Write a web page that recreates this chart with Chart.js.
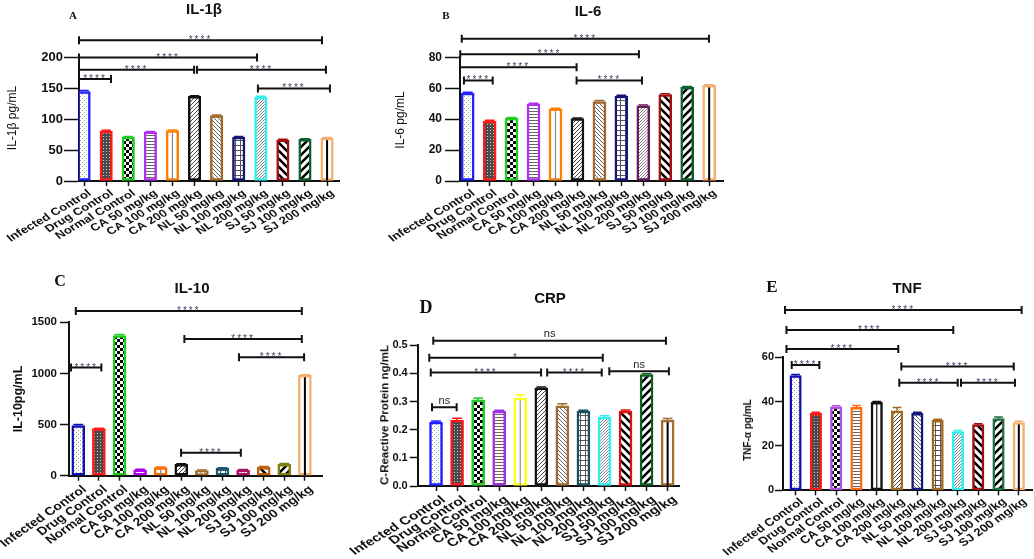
<!DOCTYPE html>
<html><head><meta charset="utf-8">
<script src="https://cdn.jsdelivr.net/npm/chart.js@4.4.1/dist/chart.umd.min.js"></script>
<style>
html,body{margin:0;padding:0;background:#fff;}
#wrap{position:relative;width:1034px;height:559px;overflow:hidden;background:#fff;}
canvas{position:absolute;left:0;top:0;}
.t{position:absolute;white-space:nowrap;font-family:"Liberation Sans",Arial,sans-serif;color:#111;transform:translate(-50%,-50%);line-height:1;}
.yt{transform:translate(-50%,-50%) rotate(-90deg);}
.L{font-family:"Liberation Serif","Times New Roman",serif;font-weight:bold;}
.b{font-weight:bold;}
</style></head><body><div id="wrap">
<canvas id="cA" width="1034" height="559"></canvas>
<canvas id="cB" width="1034" height="559"></canvas>
<canvas id="cC" width="1034" height="559"></canvas>
<canvas id="cD" width="1034" height="559"></canvas>
<canvas id="cE" width="1034" height="559"></canvas>
<div class="t L" style="left:73px;top:15px;font-size:11px">A</div>
<div class="t b" style="left:204px;top:8px;font-size:15px">IL-1β</div>
<div class="t yt" style="left:12px;top:118px;font-size:12px">IL-1β pg/mL</div>
<div class="t L" style="left:446px;top:15px;font-size:11px">B</div>
<div class="t b" style="left:588px;top:10px;font-size:15px">IL-6</div>
<div class="t yt" style="left:400px;top:120px;font-size:12px">IL-6 pg/mL</div>
<div class="t L" style="left:60px;top:281px;font-size:16px">C</div>
<div class="t b" style="left:192px;top:287px;font-size:15px">IL-10</div>
<div class="t yt b" style="left:18px;top:399px;font-size:12.5px">IL-10pg/mL</div>
<div class="t L" style="left:426px;top:307px;font-size:18px">D</div>
<div class="t b" style="left:550px;top:297px;font-size:15px">CRP</div>
<div class="t yt b" style="left:385px;top:415px;font-size:11.5px">C-Reactive Protein ng/mL</div>
<div class="t L" style="left:772px;top:286px;font-size:17px">E</div>
<div class="t b" style="left:907px;top:287px;font-size:15px">TNF</div>
<div class="t yt b" style="left:748px;top:430px;font-size:10px">TNF-α pg/mL</div>
</div>
<script>
const categories = ['Infected Control','Drug Control','Normal Control','CA 50 mg/kg','CA 100 mg/kg','CA 200 mg/kg','NL 50 mg/kg','NL 100 mg/kg','NL 200 mg/kg','SJ 50 mg/kg','SJ 100 mg/kg','SJ 200 mg/kg'];

// Panel A: IL-1beta
const il1bValues = [145, 81, 71, 79.5, 81.5, 137, 106, 71, 136, 66.5, 67.5, 69.5];
const il1bErrors = [1.5, 1, 1, 0.8, 1, 1.2, 1, 1, 1.2, 1, 1, 0.8];
const il1bTicks = [0, 50, 100, 150, 200];
const il1bTickLabels = ['0', '50', '100', '150', '200'];
const il1bBrackets = [[-0.23, 10.77, 228, '****'], [-0.23, 7.83, 200, '****'], [-0.23, 4.98, 180, '****'], [5.11, 10.95, 180, '****'], [-0.23, 1.22, 165, '****'], [7.87, 11.13, 150, '****']];
const il1bColors = ['#1f1fff','#ff1a1a','#1fcc1f','#b030f0','#ff8000','#111111','#a0682a','#15157a','#30f0f0','#a01010','#0f5f2f','#f5b070'];

// Panel B: IL-6
const il6Values = [56.8, 38.8, 40.6, 49.9, 46.6, 40.4, 51.4, 55, 48.6, 55.9, 60.6, 61.8];
const il6Errors = [0.6, 0.5, 0.5, 0.4, 0.5, 0.4, 0.6, 0.5, 0.5, 0.5, 0.5, 0.4];
const il6Ticks = [0, 20, 40, 60, 80];
const il6TickLabels = ['0', '20', '40', '60', '80'];
const il6Brackets = [[-0.27, 10.99, 92, '****'], [-0.34, 7.8, 82, '****'], [-0.35, 4.96, 73.5, '****'], [-0.17, 1.14, 65, '****'], [4.96, 7.94, 65, '****']];
const il6Colors = ['#1f1fff','#ff1a1a','#1fcc1f','#b030f0','#ff8000','#111111','#a0682a','#15157a','#6a1a5a','#a01010','#0f5f2f','#f5b070'];

// Panel C: IL-10
const il10Values = [490, 460, 1370, 55, 80, 112, 50, 72, 55, 82, 112, 982];
const il10Errors = [10, 5, 10, 8, 5, 5, 5, 5, 5, 8, 8, 5];
const il10Ticks = [0, 500, 1000, 1500];
const il10TickLabels = ['0', '500', '1000', '1500'];
const il10Brackets = [[-0.12, 10.85, 1611, '****'], [5.15, 10.85, 1337, '****'], [7.8, 10.96, 1158, '****'], [-0.35, 1.12, 1057, '****'], [4.99, 7.89, 225, '****']];
const il10Colors = ['#1010b0','#ff1a1a','#1fcc1f','#b000f0','#ff6a00','#111111','#a06a20','#1a5a70','#b01060','#c06010','#808010','#f5b070'];

// Panel D: CRP
const crpValues = [0.227, 0.234, 0.306, 0.266, 0.312, 0.349, 0.285, 0.266, 0.245, 0.266, 0.396, 0.234];
const crpErrors = [0.004, 0.007, 0.007, 0.003, 0.012, 0.003, 0.007, 0.003, 0.005, 0.004, 0.003, 0.006];
const crpTicks = [0, 0.1, 0.2, 0.3, 0.4, 0.5];
const crpTickLabels = ['0.0', '0.1', '0.2', '0.3', '0.4', '0.5'];
const crpBrackets = [[-0.13, 10.92, 0.516, 'ns'], [-0.32, 7.92, 0.4555, '*'], [-0.25, 4.99, 0.403, '****'], [5.28, 7.87, 0.403, '****'], [8.23, 11.06, 0.408, 'ns'], [-0.19, 0.98, 0.28, 'ns']];
const crpColors = ['#1f1fff','#ff1a1a','#1fcc1f','#a030e0','#ffff20','#111111','#a06a30','#1a5060','#30f0f0','#e01010','#0f5f1f','#a07030'];

// Panel E: TNF
const tnfValues = [51.7, 34.7, 37.7, 37.4, 39.7, 35.9, 34.7, 31.6, 26.5, 29.6, 32.3, 30.6];
const tnfErrors = [0.5, 0.5, 0.4, 0.9, 0.4, 1.5, 0.5, 0.5, 0.5, 0.4, 0.8, 0.5];
const tnfTicks = [0, 20, 40, 60];
const tnfTickLabels = ['0', '20', '40', '60'];
const tnfBrackets = [[-0.52, 11.14, 81.3, '****'], [-0.45, 7.77, 72.3, '****'], [-0.45, 5.06, 63.7, '****'], [-0.19, 1.17, 56.5, '****'], [5.21, 10.75, 55.8, '****'], [5.11, 7.99, 48.5, '****'], [8.15, 10.81, 48.5, '****']];
const tnfColors = ['#1010b0','#ff1a1a','#b050e0','#ff6a10','#111111','#a06a20','#15157a','#a06a20','#30f0f0','#a01010','#1f6f3f','#f5b070'];

const fillTypes = ['dots','dense','checker','hlines','vline','diagR','diagL','grid','fine','thickL','thickR','vlineB'];

Chart.defaults.font.family = '"Liberation Sans", Arial, sans-serif';
Chart.defaults.color = '#111';

function diagLines(g, s, w, col, slash) {
  g.strokeStyle = col; g.lineWidth = w; g.beginPath();
  if (slash) {
    g.moveTo(-s, s); g.lineTo(s, -s);
    g.moveTo(0, s); g.lineTo(s, 0);
    g.moveTo(0, 2*s); g.lineTo(2*s, 0);
  } else {
    g.moveTo(0, 0); g.lineTo(s, s);
    g.moveTo(0, -s); g.lineTo(2*s, s);
    g.moveTo(-s, 0); g.lineTo(s, 2*s);
  }
  g.stroke();
}
function makePattern(ctx, type) {
  const sizes = {dots:4, dense:3, checker:6, hlines:3, diagR:4, diagL:4, grid:5, fine:3, thickL:8, thickR:8};
  const s = sizes[type];
  const c = document.createElement('canvas'); c.width = s; c.height = s;
  const g = c.getContext('2d');
  g.fillStyle = '#fff'; g.fillRect(0, 0, s, s);
  switch (type) {
    case 'dots': g.fillStyle = '#9a9a9a'; g.fillRect(0, 0, 1, 1); g.fillRect(2, 2, 1, 1); break;
    case 'dense': g.fillStyle = '#4a4a4a'; g.fillRect(0, 0, 3, 3); g.fillStyle = '#c8c8c8'; g.fillRect(1, 1, 1, 1); break;
    case 'checker': g.fillStyle = '#000'; g.fillRect(0, 0, 3, 3); g.fillRect(3, 3, 3, 3); break;
    case 'hlines': g.fillStyle = '#666'; g.fillRect(0, 0, s, 1); break;
    case 'diagR': diagLines(g, s, 1, '#444', true); break;
    case 'diagL': diagLines(g, s, 1, '#666', false); break;
    case 'grid': g.fillStyle = '#555'; g.fillRect(0, 0, s, 1); g.fillRect(0, 0, 1, s); break;
    case 'fine': diagLines(g, s, 0.9, '#777', true); break;
    case 'thickL': diagLines(g, s, 2.6, '#000', false); break;
    case 'thickR': diagLines(g, s, 2.6, '#000', true); break;
  }
  return ctx.createPattern(c, 'repeat');
}

function overlay(cfg) {
  return {
    id: 'overlay_' + cfg.id,
    afterDatasetsDraw(chart) {
      const ctx = chart.ctx, xs = chart.scales.x, ys = chart.scales.y;
      const meta = chart.getDatasetMeta(0);
      ctx.save();
      meta.data.forEach((bar, i) => {
        const t = fillTypes[i];
        if (t === 'vline' || t === 'vlineB') {
          ctx.strokeStyle = t === 'vlineB' ? '#000' : cfg.vlineColor;
          ctx.lineWidth = t === 'vlineB' ? 2 : 1.2;
          ctx.beginPath(); ctx.moveTo(bar.x, bar.base); ctx.lineTo(bar.x, bar.y + 2); ctx.stroke();
        }
        const e = cfg.errors[i];
        if (e > 0) {
          const yTop = ys.getPixelForValue(cfg.values[i] + e);
          ctx.strokeStyle = cfg.colors[i]; ctx.lineWidth = 1.5;
          ctx.beginPath();
          ctx.moveTo(bar.x, bar.y); ctx.lineTo(bar.x, yTop);
          ctx.moveTo(bar.x - bar.width * 0.38, yTop); ctx.lineTo(bar.x + bar.width * 0.38, yTop);
          ctx.stroke();
        }
      });
      cfg.brackets.forEach(([a, b, v, lab]) => {
        const x1 = xs.getPixelForValue(a), x2 = xs.getPixelForValue(b), y = ys.getPixelForValue(v);
        ctx.strokeStyle = '#111'; ctx.lineWidth = 2;
        ctx.beginPath();
        ctx.moveTo(x1, y); ctx.lineTo(x2, y);
        ctx.moveTo(x1, y - 4); ctx.lineTo(x1, y + 4);
        ctx.moveTo(x2, y - 4); ctx.lineTo(x2, y + 4);
        ctx.stroke();
        ctx.textAlign = 'center'; ctx.textBaseline = 'alphabetic';
        const xm = (x1 + x2) / 2;
        if (lab === 'ns') {
          ctx.fillStyle = '#222'; ctx.font = '11px "Liberation Sans", Arial, sans-serif';
          ctx.fillText(lab, xm, y - 3.5);
        } else {
          ctx.fillStyle = '#3a4660'; ctx.font = '10px "Liberation Sans", Arial, sans-serif';
          if ('letterSpacing' in ctx) ctx.letterSpacing = '2px';
          ctx.fillText(lab, xm, y + 3);
          if ('letterSpacing' in ctx) ctx.letterSpacing = '0px';
        }
      });
      ctx.restore();
    },
    afterDraw(chart) {
      // category labels, rotated and slightly widened like the source figure
      const ctx = chart.ctx, xs = chart.scales.x;
      const lab = cfg.xLabel;
      ctx.save();
      ctx.fillStyle = '#111';
      ctx.font = 'bold ' + lab.size + 'px "Liberation Sans", Arial, sans-serif';
      ctx.textAlign = 'right'; ctx.textBaseline = 'top';
      categories.forEach((name, i) => {
        const x = xs.getPixelForValue(i);
        ctx.save();
        ctx.translate(x + lab.dx, xs.top + lab.dy);
        ctx.scale(lab.sx, 1);
        ctx.rotate(-lab.angle * Math.PI / 180);
        ctx.fillText(name, 0, 0);
        ctx.restore();
      });
      ctx.restore();
    }
  };
}

function makeChart(cfg) {
  const canvas = document.getElementById(cfg.id);
  const ctx = canvas.getContext('2d');
  const fills = fillTypes.map(t => (t === 'vline' || t === 'vlineB') ? '#ffffff' : makePattern(ctx, t));
  const YW = 42;
  const XH = Math.min(95, 559 - cfg.B);
  new Chart(ctx, {
    type: 'bar',
    data: { datasets: [{
      data: cfg.values.map((v, i) => ({x: i, y: v})),
      backgroundColor: fills, borderColor: cfg.colors, borderWidth: 2.5,
      borderSkipped: false, barThickness: cfg.barW
    }]},
    options: {
      responsive: false, animation: false, events: [],
      layout: { padding: { left: cfg.L - YW, right: 1034 - cfg.R, top: cfg.T, bottom: 559 - cfg.B - XH } },
      plugins: { legend: {display: false}, tooltip: {enabled: false} },
      scales: {
        x: {
          type: 'linear', min: cfg.xmin, max: cfg.xmax, offset: false,
          afterBuildTicks: s => { s.ticks = categories.map((c, i) => ({value: i})); },
          afterFit: s => { s.height = XH; s.paddingLeft = 0; s.paddingRight = 0; s.paddingTop = 0; s.paddingBottom = 0; },
          ticks: { display: false, autoSkip: false, callback: v => categories[v] },
          grid: { display: true, drawOnChartArea: false, drawTicks: true, tickLength: 5, tickColor: '#111', tickWidth: 1.5, offset: false },
          border: { display: true, color: '#111', width: 2 }
        },
        y: {
          min: 0, max: cfg.ymax,
          afterBuildTicks: s => { s.ticks = cfg.ticks.map(v => ({value: v})); },
          afterFit: s => { s.width = YW; s.paddingTop = 0; s.paddingBottom = 0; },
          ticks: { font: {size: cfg.yFont, weight: 'bold'}, color: '#111', padding: cfg.yPad,
                   callback: (v, i) => cfg.tickLabels[i] },
          grid: { display: true, drawOnChartArea: false, drawTicks: true, tickLength: cfg.yTick, tickColor: '#111', tickWidth: 1.5 },
          border: { display: true, color: '#111', width: 2 }
        }
      }
    },
    plugins: [overlay(cfg)]
  });
}

makeChart({id:'cA', values: il1bValues, errors: il1bErrors, ticks: il1bTicks, tickLabels: il1bTickLabels, brackets: il1bBrackets, colors: il1bColors,
  L: 79, R: 339, T: 57.5, B: 181, xmin: -0.23, xmax: 11.54, ymax: 200, barW: 12.5, yFont: 13, yTick: 15, yPad: 1, vlineColor: '#888',
  xLabel: {size: 10.5, angle: 36, sx: 1.25, dx: 2, dy: 7}});
makeChart({id:'cB', values: il6Values, errors: il6Errors, ticks: il6Ticks, tickLabels: il6TickLabels, brackets: il6Brackets, colors: il6Colors,
  L: 460, R: 723, T: 57.3, B: 181, xmin: -0.35, xmax: 11.63, ymax: 80, barW: 13, yFont: 12, yTick: 15, yPad: 3, vlineColor: '#888',
  xLabel: {size: 10.5, angle: 36, sx: 1.28, dx: 2, dy: 7}});
makeChart({id:'cC', values: il10Values, errors: il10Errors, ticks: il10Ticks, tickLabels: il10TickLabels, brackets: il10Brackets, colors: il10Colors,
  L: 69, R: 322, T: 322.3, B: 475.7, xmin: -0.45, xmax: 11.83, ymax: 1500, barW: 13, yFont: 11.5, yTick: 9, yPad: 3, vlineColor: '#888',
  xLabel: {size: 11.5, angle: 40, sx: 1.22, dx: 2, dy: 8}});
makeChart({id:'cD', values: crpValues, errors: crpErrors, ticks: crpTicks, tickLabels: crpTickLabels, brackets: crpBrackets, colors: crpColors,
  L: 417.7, R: 679, T: 345.3, B: 486, xmin: -0.87, xmax: 11.54, ymax: 0.5, barW: 13, yFont: 11, yTick: 8, yPad: 2, vlineColor: '#999',
  xLabel: {size: 11.5, angle: 38, sx: 1.32, dx: 3, dy: 8}});
makeChart({id:'cE', values: tnfValues, errors: tnfErrors, ticks: tnfTicks, tickLabels: tnfTickLabels, brackets: tnfBrackets, colors: tnfColors,
  L: 783, R: 1032, T: 357.3, B: 490.3, xmin: -0.62, xmax: 11.65, ymax: 60, barW: 11.5, yFont: 11, yTick: 8, yPad: 1, vlineColor: '#111',
  xLabel: {size: 10.8, angle: 40, sx: 1.21, dx: 2, dy: 6}});
</script>
</body></html>
